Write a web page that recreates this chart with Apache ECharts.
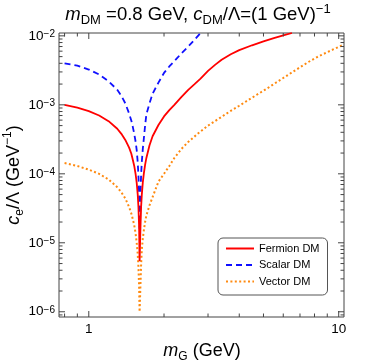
<!DOCTYPE html>
<html><head><meta charset="utf-8">
<script src="https://cdn.jsdelivr.net/npm/echarts@6/dist/echarts.min.js"></script>
<style>html,body{margin:0;padding:0;background:#fff}#c{width:374px;height:363px}</style>
</head><body><div id="c"></div>
<script>
// ---- data ----
const fermionX = [0.8,0.9,1.0,1.1,1.2,1.3,1.35,1.4,1.45,1.48,1.5,1.52,1.54,1.555,1.57,1.58,1.59,1.597,1.603,1.61,1.62,1.63,1.645,1.66,1.68,1.7,1.75,1.8,1.9,2.0,2.1,2.2,2.35,2.5,2.65,2.8,3.0,3.2,3.4,3.7,4.0,4.5,5.0,5.5,6.0,6.5];
const fermionY = [1.0e-3,9.1e-4,8.1e-4,7.0e-4,5.8e-4,4.5e-4,3.8e-4,3.1e-4,2.4e-4,1.95e-4,1.6e-4,1.3e-4,9.8e-5,7.4e-5,5.0e-5,3.3e-5,1.7e-5,5.4e-6,5.4e-6,1.7e-5,3.4e-5,5.0e-5,7.5e-5,1.0e-4,1.35e-4,1.7e-4,2.6e-4,3.5e-4,5.1e-4,6.8e-4,8.4e-4,1.0e-3,1.3e-3,1.65e-3,2.0e-3,2.4e-3,3.1e-3,3.8e-3,4.5e-3,5.4e-3,6.2e-3,7.3e-3,8.3e-3,9.3e-3,1.02e-2,1.1e-2];
const scalarX = [0.8,0.9,1.0,1.1,1.2,1.3,1.35,1.4,1.45,1.48,1.5,1.52,1.54,1.555,1.57,1.58,1.59,1.597,1.603,1.61,1.62,1.63,1.645,1.66,1.68,1.7,1.75,1.8,1.9,2.0,2.1,2.2,2.35,2.5,2.65,2.8];
const scalarY = [4.0e-3,3.7e-3,3.25e-3,2.75e-3,2.2e-3,1.65e-3,1.35e-3,1.05e-3,7.5e-4,5.9e-4,4.8e-4,3.8e-4,2.9e-4,2.2e-4,1.45e-4,9.5e-5,5e-5,1.6e-5,1.6e-5,5e-5,1.0e-4,1.5e-4,2.3e-4,3.2e-4,5.0e-4,7.3e-4,1.05e-3,1.45e-3,2.1e-3,2.9e-3,3.6e-3,4.3e-3,5.6e-3,7.0e-3,8.8e-3,1.1e-2];
const vectorX = [0.8,0.9,1.0,1.1,1.2,1.3,1.35,1.4,1.45,1.48,1.5,1.52,1.54,1.555,1.57,1.58,1.59,1.597,1.603,1.61,1.62,1.63,1.645,1.66,1.68,1.7,1.75,1.8,1.9,2.0,2.1,2.2,2.35,2.5,2.75,3.0,3.4,3.7,4.0,4.5,5.0,5.5,6.0,6.5,7.0,7.5,8.0,8.5,9.0,9.5,10.0,10.5];
const vectorY = [1.43e-4,1.30e-4,1.15e-4,1.0e-4,8.3e-5,6.4e-5,5.4e-5,4.4e-5,3.3e-5,2.65e-5,2.2e-5,1.8e-5,1.35e-5,1.0e-5,6.8e-6,4.5e-6,2.3e-6,1.0e-6,1.0e-6,2.5e-6,5e-6,8e-6,1.15e-5,1.5e-5,2.0e-5,2.5e-5,3.5e-5,4.6e-5,7.7e-5,1.0e-4,1.3e-4,1.7e-4,2.3e-4,2.9e-4,3.9e-4,5.0e-4,6.7e-4,8.2e-4,9.7e-4,1.27e-3,1.6e-3,2.0e-3,2.45e-3,2.95e-3,3.5e-3,4.1e-3,4.7e-3,5.25e-3,5.8e-3,6.35e-3,6.9e-3,7.5e-3];
const seriesNames = ['Fermion DM','Scalar DM','Vector DM'];
const xMajorTicks = [1, 10];
const xMinorTicks = [0.8, 0.9, 2, 3, 4, 5, 6, 7, 8, 9];
const yMajorTicks = [1e-6, 1e-5, 1e-4, 1e-3, 1e-2];
const yMinorMantissa = [2,3,4,5,6,7,8,9];
const yMinorDecades = [1e-7, 1e-6, 1e-5, 1e-4, 1e-3];
const titleText = '{i|m}{sub|DM} =0.8 GeV, {i|c}{sub|DM}/Λ=(1 GeV){sup|−1}';
const xTitle = '{i|m}{sub|G} (GeV)';
const yTitle = '{i|c}{sub|e}/Λ (GeV{sup|−1})';

const X_MIN = 0.76, X_MAX = 10.5, Y_MIN = 8.4e-7, Y_MAX = 1.1e-2;
const FONT = "'Liberation Sans', Arial, sans-serif";
const FRAME = '#444';

const zip = (xs, ys) => xs.map((x, i) => [x, ys[i]]);
const yMinorTicks = [];
yMinorDecades.forEach(d => yMinorMantissa.forEach(m => { const v = m * d; if (v > Y_MIN && v < Y_MAX) yMinorTicks.push(v); }));

const xTickData = xMajorTicks.map(v => [v, 6]).concat(xMinorTicks.map(v => [v, 3.5]));
const yTickData = yMajorTicks.map(v => [6, v]).concat(yMinorTicks.map(v => [3.5, v]));

const chart = echarts.init(document.getElementById('c'), null, {renderer: 'canvas'});
const isPow10 = v => { const l = Math.log10(v); return Math.abs(l - Math.round(l)) < 1e-6; };

const richMain = (size) => ({
  i: {fontStyle: 'italic', fontSize: size, fontFamily: FONT, lineHeight: 24, color: '#000'},
  sub: {fontSize: Math.round(size * 0.68), fontFamily: FONT, verticalAlign: 'bottom', lineHeight: 11, color: '#000'},
  sup: {fontSize: Math.round(size * 0.68), fontFamily: FONT, verticalAlign: 'top', lineHeight: 14, color: '#000'}
});

chart.setOption({
  animation: false,
  backgroundColor: '#fff',
  grid: {left: 59, top: 33, right: 30, bottom: 46, show: true, borderColor: FRAME, borderWidth: 1, backgroundColor: 'transparent'},
  xAxis: {
    type: 'log', logBase: 10, min: X_MIN, max: X_MAX,
    axisLine: {show: false}, axisTick: {show: false}, splitLine: {show: false}, minorTick: {show: false},
    axisLabel: {margin: 5, fontSize: 13.5, fontFamily: FONT, color: '#000',
      formatter: v => isPow10(v) ? String(Math.round(v)) : ''}
  },
  yAxis: {
    type: 'log', logBase: 10, min: Y_MIN, max: Y_MAX,
    axisLine: {show: false}, axisTick: {show: false}, splitLine: {show: false}, minorTick: {show: false},
    axisLabel: {margin: 4, fontSize: 13.5, fontFamily: FONT, color: '#000',
      formatter: v => isPow10(v) ? '10{sup|−' + (-Math.round(Math.log10(v))) + '}' : '',
      rich: {sup: {fontSize: 10, fontFamily: FONT, verticalAlign: 'top', color: '#000'}}}
  },
  legend: {
    data: seriesNames, orient: 'vertical', left: 218, top: 238,
    backgroundColor: '#fff', borderColor: '#555', borderWidth: 1, borderRadius: 5,
    padding: [5, 8, 8, 7], itemGap: 5.5, itemWidth: 28, itemHeight: 12,
    itemStyle: {opacity: 0},
    textStyle: {fontSize: 11, fontFamily: FONT, color: '#000'}
  },
  graphic: [
    {type: 'text', x: 198, y: 15, style: {text: titleText, font: '18.5px ' + FONT, fill: '#000', align: 'center', verticalAlign: 'middle', lineHeight: 24, rich: richMain(18.5)}},
    {type: 'text', x: 202, y: 351, style: {text: xTitle, font: '18px ' + FONT, fill: '#000', align: 'center', verticalAlign: 'middle', lineHeight: 24, rich: richMain(18)}},
    {type: 'text', x: 14, y: 175, rotation: Math.PI / 2, style: {text: yTitle, font: '18px ' + FONT, fill: '#000', align: 'center', verticalAlign: 'middle', lineHeight: 24, rich: richMain(18)}}
  ],
  series: [
    {name: seriesNames[0], type: 'line', data: zip(fermionX, fermionY), symbol: 'none', clip: true, z: 4,
      lineStyle: {color: '#ff0000', width: 1.8}, itemStyle: {color: '#ff0000'}},
    {name: seriesNames[1], type: 'line', data: zip(scalarX, scalarY), symbol: 'none', clip: true, z: 3,
      lineStyle: {color: '#1010ff', width: 1.8, type: [6, 4]}, itemStyle: {color: '#1010ff'}},
    {name: seriesNames[2], type: 'line', data: zip(vectorX, vectorY), symbol: 'none', clip: true, z: 2,
      lineStyle: {color: '#ff8a10', width: 2, type: [2, 2.4]}, itemStyle: {color: '#ff8a10'}},
    {type: 'custom', data: xTickData, encode: {x: 0, y: 1}, silent: true, z: 5,
      renderItem: (params, api) => {
        const v = api.value(0), L = api.value(1);
        const b = api.coord([v, Y_MIN]), t = api.coord([v, Y_MAX]);
        const st = {stroke: FRAME, lineWidth: 1};
        return {type: 'group', children: [
          {type: 'line', shape: {x1: b[0], y1: b[1], x2: b[0], y2: b[1] - L}, style: st},
          {type: 'line', shape: {x1: t[0], y1: t[1], x2: t[0], y2: t[1] + L}, style: st}
        ]};
      }},
    {type: 'custom', data: yTickData, encode: {x: 0, y: 1}, silent: true, z: 5,
      renderItem: (params, api) => {
        const v = api.value(1), L = api.value(0);
        const l = api.coord([X_MIN, v]), r = api.coord([X_MAX, v]);
        const st = {stroke: FRAME, lineWidth: 1};
        return {type: 'group', children: [
          {type: 'line', shape: {x1: l[0], y1: l[1], x2: l[0] + L, y2: l[1]}, style: st},
          {type: 'line', shape: {x1: r[0], y1: r[1], x2: r[0] - L, y2: r[1]}, style: st}
        ]};
      }}
  ]
});
</script></body></html>
